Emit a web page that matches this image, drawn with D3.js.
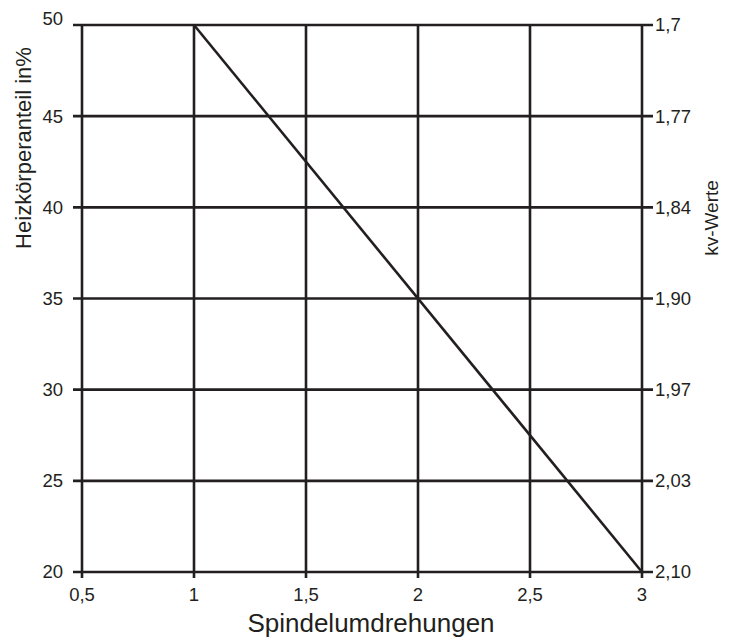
<!DOCTYPE html>
<html>
<head>
<meta charset="utf-8">
<script src="https://cdn.jsdelivr.net/npm/d3@7"></script>
<style>
body { margin: 0; background: #fff; }
text { font-family: "Liberation Sans", Arial, sans-serif; fill: #231f20; }
</style>
</head>
<body>
<script>
var xTicks = [0.5, 1, 1.5, 2, 2.5, 3];
var yTicks = [20, 25, 30, 35, 40, 45, 50];
var kvLabels = ['2,10', '2,03', '1,97', '1,90', '1,84', '1,77', '1,7'];
var spindel = [1, 3];
var anteil = [50, 20];

var width = 731,
	height = 641,
	plotLeft = 82,
	plotRight = 642,
	plotTop = 25,
	plotBottom = 572,
	ink = '#231f20';

var xScale = d3.scaleLinear()
	.domain([0.5, 3])
	.range([plotLeft, plotRight]);

var yScale = d3.scaleLinear()
	.domain([20, 50])
	.range([plotBottom, plotTop]);

var svg = d3.select('body').append('svg')
	.attr('width', width)
	.attr('height', height);

// vertical grid lines, they stick out a bit below the plot
svg.append('g')
	.selectAll('line')
	.data(xTicks)
	.enter().append('line')
		.attr('x1', function(d){ return xScale(d); })
		.attr('x2', function(d){ return xScale(d); })
		.attr('y1', plotTop)
		.attr('y2', plotBottom + 6)
		.style('stroke', ink)
		.style('stroke-width', 2.6);

// horizontal grid lines, sticking out left and right
svg.append('g')
	.selectAll('line')
	.data(yTicks)
	.enter().append('line')
		.attr('x1', plotLeft - 9)
		.attr('x2', plotRight + 11)
		.attr('y1', function(d){ return yScale(d); })
		.attr('y2', function(d){ return yScale(d); })
		.style('stroke', ink)
		.style('stroke-width', 2.6);

// left labels
svg.append('g')
	.selectAll('text')
	.data(yTicks)
	.enter().append('text')
		.attr('x', plotLeft - 19)
		.attr('y', function(d){ return yScale(d); })
		.attr('dy', function(d){ return d == 50 ? '0' : '0.35em'; })
		.attr('text-anchor', 'end')
		.style('font-size', '18.5px')
		.text(function(d){ return d; });

// right labels (kv-Werte)
svg.append('g')
	.selectAll('text')
	.data(yTicks)
	.enter().append('text')
		.attr('x', plotRight + 13)
		.attr('y', function(d){ return yScale(d); })
		.attr('dy', '0.35em')
		.style('font-size', '18.5px')
		.text(function(d, i){ return kvLabels[i]; });

// bottom labels
svg.append('g')
	.selectAll('text')
	.data(xTicks)
	.enter().append('text')
		.attr('x', function(d){ return xScale(d); })
		.attr('y', 601)
		.attr('text-anchor', 'middle')
		.style('font-size', '18.5px')
		.text(function(d){ return String(d).replace('.', ','); });

// the line
var line = d3.line()
	.x(function(d){ return xScale(d[0]); })
	.y(function(d){ return yScale(d[1]); });

svg.append('path')
	.datum(d3.zip(spindel, anteil))
	.attr('d', line)
	.style('fill', 'none')
	.style('stroke', ink)
	.style('stroke-width', 2.6);

// axis titles
svg.append('text')
	.attr('x', 371)
	.attr('y', 632)
	.attr('text-anchor', 'middle')
	.style('font-size', '26px')
	.text('Spindelumdrehungen');

svg.append('text')
	.attr('transform', 'translate(31,148) rotate(-90)')
	.attr('text-anchor', 'middle')
	.style('font-size', '22px')
	.text('Heizkörperanteil in%');

svg.append('text')
	.attr('transform', 'translate(718,218) rotate(-90)')
	.attr('text-anchor', 'middle')
	.style('font-size', '19px')
	.text('kv-Werte');
</script>
</body>
</html>
